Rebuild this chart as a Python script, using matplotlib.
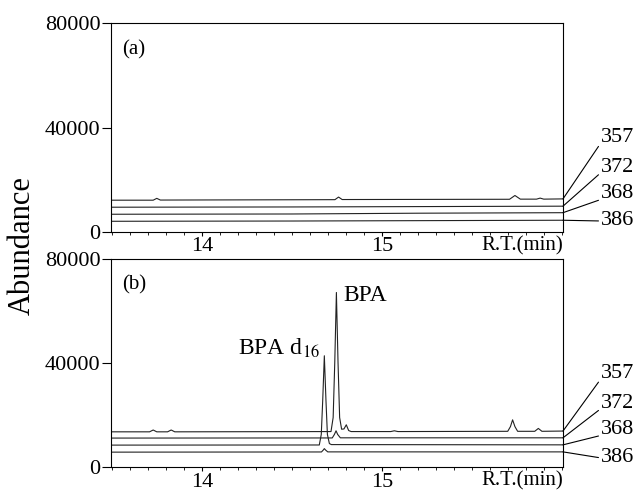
import numpy as np
import matplotlib
matplotlib.use("Agg")
import matplotlib.pyplot as plt
from matplotlib.ticker import MultipleLocator, FixedLocator

plt.rcParams['font.family'] = ['Liberation Serif', 'DejaVu Serif']
plt.rcParams['mathtext.fontset'] = 'stix'

# ion labels, top to bottom
ions = ['357', '372', '368', '386']
x_ticks = [14, 15]

# %% panel (a): blank sample (time in min, abundance)
a_357_t = [13.49, 13.73, 13.75, 13.77, 14.74, 14.76, 14.78, 15.71, 15.74, 15.77,
           15.86, 15.88, 15.90, 16.01]
a_357_y = [12100, 12100, 12800, 12150, 12300, 13300, 12350, 12450, 13900, 12500,
           12500, 12900, 12500, 12600]
a_372_t = [13.49, 14.5, 15.5, 16.01]
a_372_y = [9400, 9500, 9700, 9800]
a_368_t = [13.49, 14.5, 15.2, 16.01]
a_368_y = [6700, 6800, 7100, 7300]
a_386_t = [13.49, 14.5, 15.5, 16.01]
a_386_y = [4000, 4100, 4300, 4400]

# %% panel (b): spiked sample
b_357_t = [13.49, 13.71, 13.73, 13.75, 13.81, 13.83, 13.85, 14.718, 14.73, 14.739,
           14.748, 14.757, 14.766, 14.777, 14.79, 14.803, 14.816, 14.83, 15.05,
           15.07, 15.09, 15.70, 15.715, 15.727, 15.74, 15.755, 15.85, 15.87, 15.89,
           16.01]
b_357_y = [13500, 13500, 14200, 13500, 13500, 14200, 13500, 13600, 19000, 40300,
           67000, 40300, 19000, 14500, 14600, 16200, 14000, 13600, 13600,
           13900, 13600, 13700, 15500, 18100, 15500, 13700, 13700, 14800, 13700,
           13800]
b_372_t = [13.49, 14.725, 14.737, 14.746, 14.755, 14.77, 16.01]
b_372_y = [11100, 11150, 12500, 13900, 12500, 11200, 11200]
b_368_t = [13.49, 14.653, 14.664, 14.672, 14.681, 14.690, 14.698, 14.709, 14.72,
           16.01]
b_368_y = [8400, 8450, 12500, 25600, 42700, 25600, 12500, 9000, 8600, 8500]
b_386_t = [13.49, 14.665, 14.675, 14.681, 14.688, 14.70, 16.01]
b_386_y = [5700, 5770, 6500, 7050, 6500, 5800, 5800]

traces_a = [(a_357_t, a_357_y), (a_372_t, a_372_y), (a_368_t, a_368_y),
            (a_386_t, a_386_y)]
traces_b = [(b_357_t, b_357_y), (b_372_t, b_372_y), (b_368_t, b_368_y),
            (b_386_t, b_386_y)]

x_min, x_max = 13.494, 16.007

fig = plt.figure(figsize=(6.41, 4.91), dpi=100)
ax_a = fig.add_axes([0.1727, 0.5281, 0.7056, 0.4244])
ax_b = fig.add_axes([0.1727, 0.0489, 0.7056, 0.4244])

# label y positions in figure pixels (from top), one set per panel
label_px = {
    'a': [137, 167, 194, 221],
    'b': [373, 403, 430, 458],
}
H = 491.0

for ax, traces, tag in [(ax_a, traces_a, 'a'), (ax_b, traces_b, 'b')]:
    for t, y in traces:
        ax.plot(t, y, color='#222222', lw=0.8)
    ax.set_xlim(x_min, x_max)
    ax.set_ylim(0, 80000)
    ax.set_yticks([0, 40000, 80000])
    ax.set_yticklabels(['0', '40000', '80000'])
    ax.xaxis.set_major_locator(FixedLocator(x_ticks))
    ax.xaxis.set_minor_locator(MultipleLocator(0.1))
    ax.tick_params(axis='y', direction='out', length=6.5, width=0.8, pad=1,
                   labelsize=16)
    ax.tick_params(axis='x', which='major', direction='out', length=3,
                   width=0.8, pad=1, labelsize=16)
    ax.tick_params(axis='x', which='minor', direction='out', length=2,
                   width=0.6)
    for s in ax.spines.values():
        s.set_linewidth(0.8)
    ax.text(1.0, -0.022, 'R.T.(min)', transform=ax.transAxes, ha='right',
            va='top', fontsize=15)
    ax.text(0.026, 0.875, '(%s)' % tag, transform=ax.transAxes, ha='left',
            va='center', fontsize=15)

    # connector lines from trace ends to the ion labels
    for (t, y), ion, py in zip(traces, ions, label_px[tag]):
        fy = 1 - py / H
        rel = (0, 0.5) if ion == '386' else (0, 0.22)
        ax.annotate(ion, xy=(x_max, y[-1]), xycoords='data',
                    xytext=(0.938, fy), textcoords='figure fraction',
                    ha='left', va='center', fontsize=16,
                    annotation_clip=False,
                    arrowprops=dict(arrowstyle='-', lw=0.8, color='black',
                                    shrinkA=0, shrinkB=0, relpos=rel))

# peak names
ax_b.text(14.785, 66000, 'BPA', ha='left', va='center', fontsize=17)
ax_b.text(14.655, 45500, r'BPA d$_{16}$', ha='right', va='center', fontsize=17)

fig.text(0.035, 0.5, 'Abundance', rotation=90, ha='center', va='center',
         fontsize=22)

fig.savefig('out.png', dpi=100)
